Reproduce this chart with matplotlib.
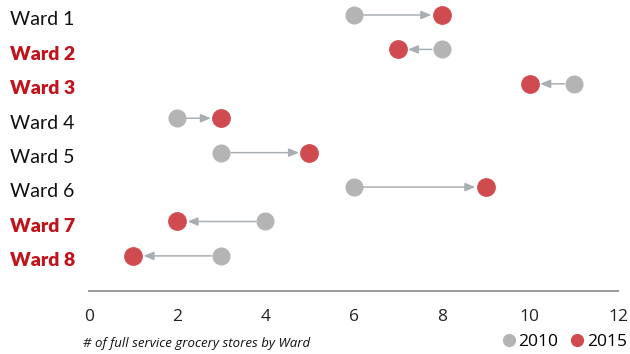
import matplotlib.pyplot as plt
from matplotlib.lines import Line2D
from matplotlib.transforms import blended_transform_factory

wards = ["Ward 1", "Ward 2", "Ward 3", "Ward 4", "Ward 5", "Ward 6", "Ward 7", "Ward 8"]
stores_2010 = [6, 8, 11, 2, 3, 6, 4, 3]
stores_2015 = [8, 7, 10, 3, 5, 9, 2, 1]
highlight = ["Ward 2", "Ward 3", "Ward 7", "Ward 8"]
x_ticks = [0, 2, 4, 6, 8, 10, 12]

GREY = "#b4b4b4"
RED = "#d04b4f"
ARROW = "#a9aeb3"
LABEL_RED = "#c0141c"

fig = plt.figure(figsize=(6.3, 3.54), dpi=100)
ax = fig.add_axes([89 / 630, 1 - 291 / 354, (618 - 89) / 630, 291 / 354])

ys = list(range(len(wards)))
for y, a, b in zip(ys, stores_2010, stores_2015):
    ax.annotate("", xy=(b, y), xytext=(a, y),
                arrowprops=dict(arrowstyle="-|>,head_length=0.6,head_width=0.25",
                                color=ARROW, lw=1.1, shrinkA=7, shrinkB=7.5),
                zorder=1)
ax.plot(stores_2010, ys, "o", color=GREY, markersize=12, zorder=2, linestyle="none")
ax.plot(stores_2015, ys, "o", color=RED, markersize=12.5, zorder=3, linestyle="none")

ax.set_xlim(0, 12)
ax.set_ylim(8.02, -0.436)
ax.set_xticks(x_ticks)
ax.set_xticklabels([str(t) for t in x_ticks], fontsize=12.5, family="Open Sans", color="#222222")
ax.tick_params(axis="x", length=0, pad=13)
ax.set_yticks([])
for side in ["top", "right", "left"]:
    ax.spines[side].set_visible(False)
ax.spines["bottom"].set_color("#999999")
ax.spines["bottom"].set_linewidth(1.4)

# ward names sit a touch below the dot rows, like the original
label_trans = blended_transform_factory(fig.transFigure, ax.transData)
for y, name in zip(ys, wards):
    if name in highlight:
        ax.text(10 / 630, y + 0.14, name, transform=label_trans, clip_on=False,
                fontsize=14, fontweight="heavy", color=LABEL_RED, family="Lato", va="center")
    else:
        ax.text(10 / 630, y + 0.14, name, transform=label_trans, clip_on=False,
                fontsize=14, color="#111111", family="Lato", va="center")

fig.text(83 / 630, 1 - 344 / 354, "# of full service grocery stores by Ward",
         fontsize=9.5, style="italic", family="Open Sans", va="center", color="#111111")

handles = [Line2D([], [], marker="o", color=GREY, linestyle="none", markersize=8.5),
           Line2D([], [], marker="o", color=RED, linestyle="none", markersize=8.5)]
fig.legend(handles, ["2010", "2015"], loc="center right", bbox_to_anchor=(627 / 630, 1 - 342 / 354),
           ncol=2, frameon=False, handletextpad=0.05, columnspacing=0.6, handlelength=1.0,
           borderaxespad=0, borderpad=0, prop={"family": "Open Sans", "size": 12.5})

fig.savefig("out.png", dpi=100)
